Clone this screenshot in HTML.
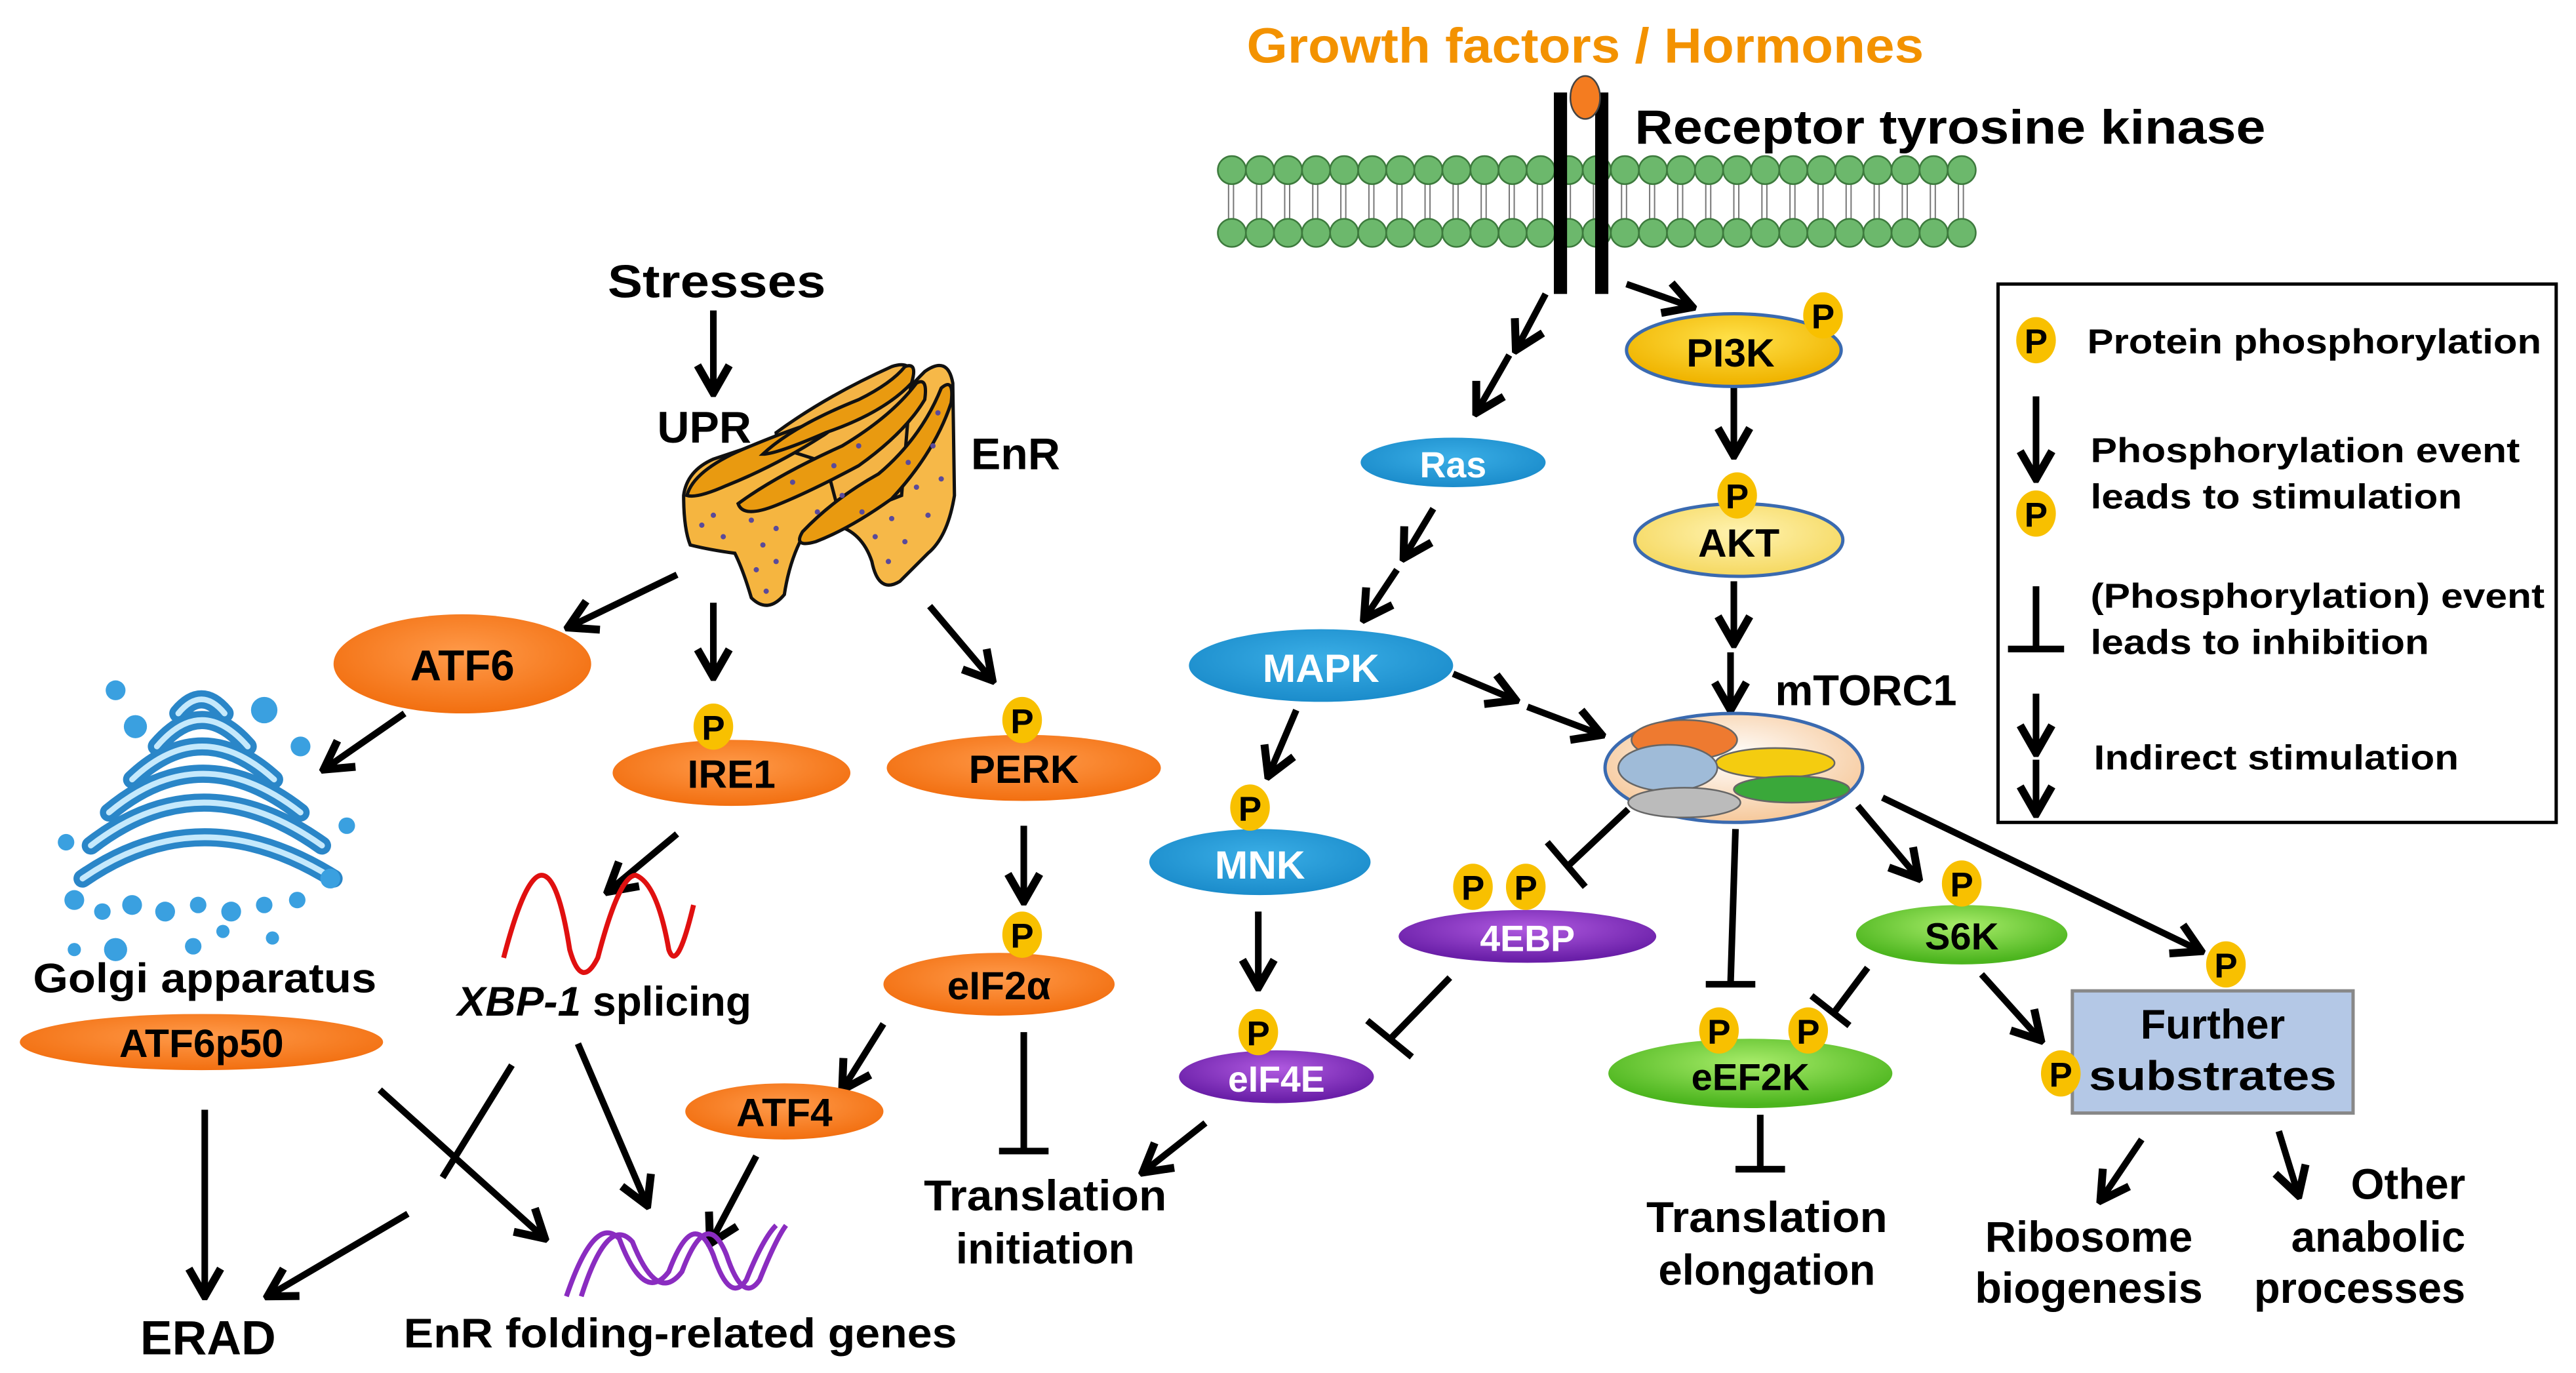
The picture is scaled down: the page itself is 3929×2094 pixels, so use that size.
<!DOCTYPE html>
<html><head><meta charset="utf-8"><style>
html,body{margin:0;padding:0;background:#fff;}
svg{display:block;}
text{font-family:"Liberation Sans",sans-serif;font-weight:bold;}
</style></head><body>
<svg width="3929" height="2094" viewBox="0 0 1560 831.4" preserveAspectRatio="none" xmlns="http://www.w3.org/2000/svg">
<defs>
<marker id="ah" markerUnits="userSpaceOnUse" markerWidth="24" markerHeight="24" viewBox="0 0 20 20" refX="18" refY="10" orient="auto">
<path d="M4,2 L18,10 L4,18" fill="none" stroke="#000" stroke-width="4"/>
</marker>
<radialGradient id="gO" cx="50%" cy="40%" r="60%"><stop offset="0" stop-color="#ff9a4a"/><stop offset="1" stop-color="#f26f10"/></radialGradient>
<radialGradient id="gB" cx="50%" cy="40%" r="60%"><stop offset="0" stop-color="#3aaee6"/><stop offset="1" stop-color="#1b8ccb"/></radialGradient>
<radialGradient id="gPu" cx="50%" cy="35%" r="60%"><stop offset="0" stop-color="#b05ae0"/><stop offset="1" stop-color="#6a1fa8"/></radialGradient>
<radialGradient id="gG" cx="50%" cy="35%" r="60%"><stop offset="0" stop-color="#a8ec6a"/><stop offset="1" stop-color="#4cb51e"/></radialGradient>
<radialGradient id="gY" cx="50%" cy="35%" r="60%"><stop offset="0" stop-color="#ffe14a"/><stop offset="1" stop-color="#f0b400"/></radialGradient>
<radialGradient id="gLY" cx="50%" cy="40%" r="60%"><stop offset="0" stop-color="#fff3b0"/><stop offset="1" stop-color="#f5d860"/></radialGradient>
<radialGradient id="gM" cx="50%" cy="40%" r="60%"><stop offset="0" stop-color="#fff"/><stop offset="1" stop-color="#f6c89a"/></radialGradient>
<g id="P"><ellipse cx="0" cy="0" rx="12" ry="14" fill="#f8c000"/><text x="0" y="8" font-size="21" text-anchor="middle" fill="#000">P</text></g>
</defs>

<!-- title -->
<text x="960" y="38" font-size="30" text-anchor="middle" fill="#f39200" textLength="410" lengthAdjust="spacingAndGlyphs">Growth factors / Hormones</text>
<text x="990" y="87" font-size="29" fill="#000" textLength="382" lengthAdjust="spacingAndGlyphs">Receptor tyrosine kinase</text>

<!-- membrane -->
<g stroke="#777" stroke-width="0.8">
<path d="M744,110 V136 M747,110 V136 M761,110 V136 M764,110 V136 M778,110 V136 M781,110 V136 M795,110 V136 M798,110 V136 M812,110 V136 M815,110 V136 M829,110 V136 M832,110 V136 M846,110 V136 M849,110 V136 M863,110 V136 M866,110 V136 M880,110 V136 M883,110 V136 M897,110 V136 M900,110 V136 M914,110 V136 M917,110 V136 M931,110 V136 M934,110 V136 M948,110 V136 M951,110 V136 M965,110 V136 M968,110 V136 M982,110 V136 M985,110 V136 M999,110 V136 M1002,110 V136 M1016,110 V136 M1019,110 V136 M1033,110 V136 M1036,110 V136 M1050,110 V136 M1053,110 V136 M1067,110 V136 M1070,110 V136 M1084,110 V136 M1087,110 V136 M1101,110 V136 M1104,110 V136 M1118,110 V136 M1121,110 V136 M1135,110 V136 M1138,110 V136 M1152,110 V136 M1155,110 V136 M1169,110 V136 M1172,110 V136 M1186,110 V136 M1189,110 V136"/>
</g>
<g fill="#6cb86c" stroke="#3d7a3d" stroke-width="1">
<circle cx="746" cy="103" r="8.5"/><circle cx="763" cy="103" r="8.5"/><circle cx="780" cy="103" r="8.5"/><circle cx="797" cy="103" r="8.5"/><circle cx="814" cy="103" r="8.5"/><circle cx="831" cy="103" r="8.5"/><circle cx="848" cy="103" r="8.5"/><circle cx="865" cy="103" r="8.5"/><circle cx="882" cy="103" r="8.5"/><circle cx="899" cy="103" r="8.5"/><circle cx="916" cy="103" r="8.5"/><circle cx="933" cy="103" r="8.5"/><circle cx="950" cy="103" r="8.5"/><circle cx="967" cy="103" r="8.5"/><circle cx="984" cy="103" r="8.5"/><circle cx="1001" cy="103" r="8.5"/><circle cx="1018" cy="103" r="8.5"/><circle cx="1035" cy="103" r="8.5"/><circle cx="1052" cy="103" r="8.5"/><circle cx="1069" cy="103" r="8.5"/><circle cx="1086" cy="103" r="8.5"/><circle cx="1103" cy="103" r="8.5"/><circle cx="1120" cy="103" r="8.5"/><circle cx="1137" cy="103" r="8.5"/><circle cx="1154" cy="103" r="8.5"/><circle cx="1171" cy="103" r="8.5"/><circle cx="1188" cy="103" r="8.5"/>
<circle cx="746" cy="141" r="8.5"/><circle cx="763" cy="141" r="8.5"/><circle cx="780" cy="141" r="8.5"/><circle cx="797" cy="141" r="8.5"/><circle cx="814" cy="141" r="8.5"/><circle cx="831" cy="141" r="8.5"/><circle cx="848" cy="141" r="8.5"/><circle cx="865" cy="141" r="8.5"/><circle cx="882" cy="141" r="8.5"/><circle cx="899" cy="141" r="8.5"/><circle cx="916" cy="141" r="8.5"/><circle cx="933" cy="141" r="8.5"/><circle cx="950" cy="141" r="8.5"/><circle cx="967" cy="141" r="8.5"/><circle cx="984" cy="141" r="8.5"/><circle cx="1001" cy="141" r="8.5"/><circle cx="1018" cy="141" r="8.5"/><circle cx="1035" cy="141" r="8.5"/><circle cx="1052" cy="141" r="8.5"/><circle cx="1069" cy="141" r="8.5"/><circle cx="1086" cy="141" r="8.5"/><circle cx="1103" cy="141" r="8.5"/><circle cx="1120" cy="141" r="8.5"/><circle cx="1137" cy="141" r="8.5"/><circle cx="1154" cy="141" r="8.5"/><circle cx="1171" cy="141" r="8.5"/><circle cx="1188" cy="141" r="8.5"/>
</g>
<!-- receptor -->
<rect x="941" y="56" width="8" height="122" fill="#000"/>
<rect x="966" y="56" width="8" height="122" fill="#000"/>
<ellipse cx="960" cy="59" rx="9" ry="13" fill="#f47c20" stroke="#444" stroke-width="1"/>

<!-- LEFT: stresses / ER -->
<text x="434" y="180" font-size="28" text-anchor="middle" textLength="132" lengthAdjust="spacingAndGlyphs">Stresses</text>
<line x1="432" y1="188" x2="432" y2="238" stroke="#000" stroke-width="4" marker-end="url(#ah)"/>
<text x="398" y="268" font-size="27">UPR</text>
<text x="588" y="284" font-size="27">EnR</text>

<!-- ER -->
<g stroke="#111" stroke-width="2">
<path d="M522,272 Q540,245 560,225 Q574,215 577,232 L578,300 Q574,325 562,335 Q552,345 545,352 Q532,360 528,340 Q522,322 506,318 L500,300 Z" fill="#f6b848"/>
<path d="M470,262 Q500,240 540,222 Q552,218 552,228 L546,300 L500,318 Q490,322 482,330 Z" fill="#f4b445"/>
<path d="M414,300 Q416,285 432,278 L462,268 L500,280 L510,318 Q498,318 486,325 Q478,340 475,360 Q465,372 455,362 Q450,345 445,335 Q430,333 418,330 Q414,320 414,300 Z" fill="#f5b540"/>
<path d="M416,300 Q420,285 450,272 Q488,256 502,254 Q508,258 498,264 Q470,282 440,294 Q422,302 416,300 Z" fill="#e99a10"/>
<path d="M447,305 Q470,288 510,270 Q540,252 555,232 Q562,228 560,242 Q548,262 520,282 Q490,298 470,306 Q450,314 447,305 Z" fill="#e99a10"/>
<path d="M486,322 Q505,302 532,287 Q558,265 570,235 Q578,228 576,244 Q566,274 540,302 Q515,320 494,328 Q480,332 486,322 Z" fill="#e99a10"/>
<path d="M462,275 Q480,258 520,242 Q540,232 548,222 Q556,219 552,232 Q535,250 500,262 Q470,275 462,275 Z" fill="#e99a10"/>
</g>
<g fill="#5a4a9a">
<circle cx="425" cy="318" r="1.6"/><circle cx="438" cy="325" r="1.6"/><circle cx="455" cy="315" r="1.6"/><circle cx="462" cy="330" r="1.6"/><circle cx="458" cy="345" r="1.6"/><circle cx="470" cy="320" r="1.6"/><circle cx="495" cy="310" r="1.6"/><circle cx="510" cy="300" r="1.6"/><circle cx="522" cy="310" r="1.6"/><circle cx="540" cy="314" r="1.6"/><circle cx="555" cy="295" r="1.6"/><circle cx="565" cy="270" r="1.6"/><circle cx="548" cy="328" r="1.6"/><circle cx="538" cy="340" r="1.6"/><circle cx="562" cy="312" r="1.6"/><circle cx="505" cy="282" r="1.6"/><circle cx="520" cy="270" r="1.6"/><circle cx="480" cy="292" r="1.6"/><circle cx="464" cy="358" r="1.6"/><circle cx="568" cy="250" r="1.6"/><circle cx="432" cy="312" r="1.6"/><circle cx="470" cy="340" r="1.6"/><circle cx="530" cy="325" r="1.6"/><circle cx="570" cy="290" r="1.6"/><circle cx="550" cy="280" r="1.6"/>
</g>

<!-- arrows left -->
<g stroke="#000" stroke-width="4" fill="none">
<line x1="410" y1="348" x2="344" y2="380" marker-end="url(#ah)"/>
<line x1="432" y1="365" x2="432" y2="410" marker-end="url(#ah)"/>
<line x1="563" y1="367" x2="601" y2="412" marker-end="url(#ah)"/>
<line x1="245" y1="432" x2="196" y2="466" marker-end="url(#ah)"/>
<line x1="410" y1="505" x2="368" y2="540" marker-end="url(#ah)"/>
<line x1="620" y1="500" x2="620" y2="546" marker-end="url(#ah)"/>
<line x1="535" y1="620" x2="510" y2="660" marker-end="url(#ah)"/>
<line x1="124" y1="672" x2="124" y2="785" marker-end="url(#ah)"/>
<line x1="310" y1="645" x2="268" y2="713"/>
<line x1="247" y1="735" x2="162" y2="785" marker-end="url(#ah)"/>
<line x1="230" y1="660" x2="330" y2="750" marker-end="url(#ah)"/>
<line x1="350" y1="632" x2="392" y2="730" marker-end="url(#ah)"/>
<line x1="458" y1="700" x2="430" y2="753" marker-end="url(#ah)"/>
<line x1="620" y1="625" x2="620" y2="697"/>
<line x1="605" y1="697" x2="635" y2="697"/>
</g>

<!-- Golgi -->
<g fill="none" stroke-linecap="round">
<g stroke="#2a86c8" stroke-width="11">
<path d="M108,432 Q122,415 136,432"/>
<path d="M95,452 Q122,420 150,452"/>
<path d="M80,472 Q122,432 166,472"/>
<path d="M66,492 Q122,445 182,492"/>
<path d="M55,512 Q122,460 195,512"/>
<path d="M50,532 Q122,482 202,532"/>
</g>
<g stroke="#c5e9fc" stroke-width="3.5">
<path d="M108,432 Q122,415 136,432"/>
<path d="M95,452 Q122,420 150,452"/>
<path d="M80,472 Q122,432 166,472"/>
<path d="M66,492 Q122,445 182,492"/>
<path d="M55,512 Q122,460 195,512"/>
<path d="M50,532 Q122,482 202,532"/>
</g>
</g>
<g fill="#3aa0e0">
<circle cx="70" cy="418" r="6"/><circle cx="82" cy="440" r="7"/><circle cx="160" cy="430" r="8"/><circle cx="182" cy="452" r="6"/><circle cx="40" cy="510" r="5"/><circle cx="210" cy="500" r="5"/><circle cx="45" cy="545" r="6"/><circle cx="62" cy="552" r="5"/><circle cx="80" cy="548" r="6"/><circle cx="100" cy="552" r="6"/><circle cx="120" cy="548" r="5"/><circle cx="140" cy="552" r="6"/><circle cx="160" cy="548" r="5"/><circle cx="180" cy="545" r="5"/><circle cx="70" cy="575" r="7"/><circle cx="117" cy="573" r="5"/><circle cx="200" cy="532" r="6"/><circle cx="135" cy="564" r="4"/><circle cx="45" cy="575" r="4"/><circle cx="165" cy="568" r="4"/>
</g>

<!-- left nodes -->
<ellipse cx="280" cy="402" rx="78" ry="30" fill="url(#gO)"/>
<text x="280" y="412" font-size="26" text-anchor="middle">ATF6</text>
<text x="124" y="601" font-size="25" text-anchor="middle" textLength="208" lengthAdjust="spacingAndGlyphs">Golgi apparatus</text>
<ellipse cx="122" cy="631" rx="110" ry="17" fill="url(#gO)"/>
<text x="122" y="640" font-size="24" text-anchor="middle">ATF6p50</text>
<ellipse cx="443" cy="468" rx="72" ry="20" fill="url(#gO)"/>
<text x="443" y="477" font-size="24" text-anchor="middle">IRE1</text>
<use href="#P" x="432" y="440"/>
<ellipse cx="620" cy="465" rx="83" ry="20" fill="url(#gO)"/>
<text x="620" y="474" font-size="24" text-anchor="middle">PERK</text>
<use href="#P" x="619" y="436"/>
<ellipse cx="605" cy="596" rx="70" ry="19" fill="url(#gO)"/>
<text x="605" y="605" font-size="24" text-anchor="middle">eIF2α</text>
<use href="#P" x="619" y="566"/>
<ellipse cx="475" cy="673" rx="60" ry="17" fill="url(#gO)"/>
<text x="475" y="682" font-size="24" text-anchor="middle">ATF4</text>

<path d="M305,580 Q318,530 328,530 Q338,530 345,575 Q352,600 362,580 Q375,530 385,530 Q398,535 405,575 Q410,590 420,548" fill="none" stroke="#e01010" stroke-width="3"/>
<text x="366" y="615" font-size="25" text-anchor="middle" textLength="178" lengthAdjust="spacingAndGlyphs"><tspan font-style="italic">XBP-1</tspan> splicing</text>

<g fill="none" stroke="#8a2cc0" stroke-width="3">
<path d="M343,785 Q360,735 375,750 Q390,790 405,770 Q420,730 432,760 Q442,790 452,775 Q462,750 470,742"/>
<path d="M352,785 Q368,735 383,752 Q398,790 413,770 Q428,730 440,760 Q450,790 460,775 Q470,750 476,742"/>
</g>
<text x="126" y="820" font-size="29" text-anchor="middle">ERAD</text>
<text x="412" y="816" font-size="25" text-anchor="middle" textLength="335" lengthAdjust="spacingAndGlyphs">EnR folding-related genes</text>
<text x="633" y="733" font-size="26" text-anchor="middle" textLength="147" lengthAdjust="spacingAndGlyphs">Translation</text>
<text x="633" y="765" font-size="26" text-anchor="middle">initiation</text>

<!-- RIGHT pathway arrows -->
<g stroke="#000" stroke-width="4" fill="none">
<line x1="985" y1="172" x2="1025" y2="186" marker-end="url(#ah)"/>
<line x1="936" y1="178" x2="918" y2="212" marker-end="url(#ah)"/>
<line x1="914" y1="215" x2="894" y2="250" marker-end="url(#ah)"/>
<line x1="1050" y1="232" x2="1050" y2="276" marker-end="url(#ah)"/>
<line x1="1050" y1="352" x2="1050" y2="390" marker-end="url(#ah)"/>
<line x1="1048" y1="395" x2="1048" y2="430" marker-end="url(#ah)"/>
<line x1="868" y1="308" x2="850" y2="338" marker-end="url(#ah)"/>
<line x1="846" y1="345" x2="826" y2="375" marker-end="url(#ah)"/>
<line x1="880" y1="408" x2="918" y2="424" marker-end="url(#ah)"/>
<line x1="925" y1="428" x2="970" y2="445" marker-end="url(#ah)"/>
<line x1="785" y1="430" x2="768" y2="470" marker-end="url(#ah)"/>
<line x1="762" y1="552" x2="762" y2="598" marker-end="url(#ah)"/>
<line x1="730" y1="680" x2="692" y2="710" marker-end="url(#ah)"/>
<line x1="986" y1="490" x2="950" y2="524"/><line x1="937" y1="510" x2="960" y2="537"/>
<line x1="878" y1="592" x2="843" y2="628"/><line x1="828" y1="618" x2="855" y2="640"/>
<line x1="1051" y1="502" x2="1048" y2="596"/><line x1="1033" y1="596" x2="1063" y2="596"/>
<line x1="1131" y1="586" x2="1110" y2="614"/><line x1="1097" y1="603" x2="1120" y2="621"/>
<line x1="1066" y1="675" x2="1066" y2="708"/><line x1="1051" y1="708" x2="1081" y2="708"/>
<line x1="1125" y1="488" x2="1162" y2="532" marker-end="url(#ah)"/>
<line x1="1140" y1="483" x2="1333" y2="576" marker-end="url(#ah)"/>
<line x1="1200" y1="590" x2="1236" y2="630" marker-end="url(#ah)"/>
<line x1="1297" y1="690" x2="1272" y2="727" marker-end="url(#ah)"/>
<line x1="1380" y1="685" x2="1392" y2="724" marker-end="url(#ah)"/>
</g>

<!-- right nodes -->
<ellipse cx="1050" cy="212" rx="65" ry="22" fill="url(#gY)" stroke="#3a6ab0" stroke-width="2"/>
<text x="1048" y="222" font-size="24" text-anchor="middle">PI3K</text>
<use href="#P" x="1104" y="191"/>
<ellipse cx="1053" cy="327" rx="63" ry="22" fill="url(#gLY)" stroke="#3a6ab0" stroke-width="2"/>
<text x="1053" y="337" font-size="24" text-anchor="middle">AKT</text>
<use href="#P" x="1052" y="300"/>
<text x="1075" y="427" font-size="26" textLength="110" lengthAdjust="spacingAndGlyphs">mTORC1</text>

<ellipse cx="880" cy="280" rx="56" ry="15" fill="url(#gB)"/>
<text x="880" y="289" font-size="22" text-anchor="middle" fill="#fff">Ras</text>
<ellipse cx="800" cy="403" rx="80" ry="22" fill="url(#gB)"/>
<text x="800" y="413" font-size="24" text-anchor="middle" fill="#fff">MAPK</text>
<ellipse cx="763" cy="522" rx="67" ry="20" fill="url(#gB)"/>
<text x="763" y="532" font-size="24" text-anchor="middle" fill="#fff">MNK</text>
<use href="#P" x="757" y="489"/>
<ellipse cx="773" cy="652" rx="59" ry="16" fill="url(#gPu)"/>
<text x="773" y="661" font-size="22" text-anchor="middle" fill="#fff">eIF4E</text>
<use href="#P" x="762" y="625"/>
<ellipse cx="925" cy="567" rx="78" ry="16" fill="url(#gPu)"/>
<text x="925" y="576" font-size="22" text-anchor="middle" fill="#fff">4EBP</text>
<use href="#P" x="892" y="537"/><use href="#P" x="924" y="537"/>

<ellipse cx="1050" cy="465" rx="78" ry="33" fill="url(#gM)" stroke="#3a6ab0" stroke-width="2"/>
<ellipse cx="1020" cy="448" rx="32" ry="12" fill="#ee7a30" stroke="#666"/>
<ellipse cx="1075" cy="462" rx="36" ry="9" fill="#f4cc10" stroke="#666"/>
<ellipse cx="1010" cy="465" rx="30" ry="14" fill="#9fbbd8" stroke="#666"/>
<ellipse cx="1085" cy="478" rx="35" ry="8" fill="#3aa83a" stroke="#666"/>
<ellipse cx="1020" cy="486" rx="34" ry="9" fill="#bbb" stroke="#666"/>

<ellipse cx="1188" cy="566" rx="64" ry="18" fill="url(#gG)"/>
<text x="1188" y="575" font-size="23" text-anchor="middle">S6K</text>
<use href="#P" x="1188" y="535"/>
<ellipse cx="1060" cy="650" rx="86" ry="21" fill="url(#gG)"/>
<text x="1060" y="660" font-size="23" text-anchor="middle">eEF2K</text>
<use href="#P" x="1041" y="624"/><use href="#P" x="1095" y="624"/>

<rect x="1255" y="600" width="170" height="74" fill="#b4c8e6" stroke="#888" stroke-width="2"/>
<text x="1340" y="629" font-size="25" text-anchor="middle">Further</text>
<text x="1340" y="660" font-size="25" text-anchor="middle" textLength="150" lengthAdjust="spacingAndGlyphs">substrates</text>
<use href="#P" x="1348" y="584"/>
<use href="#P" x="1248" y="650"/>

<text x="1070" y="746" font-size="26" text-anchor="middle" textLength="146" lengthAdjust="spacingAndGlyphs">Translation</text>
<text x="1070" y="778" font-size="26" text-anchor="middle">elongation</text>
<text x="1265" y="758" font-size="26" text-anchor="middle">Ribosome</text>
<text x="1265" y="789" font-size="26" text-anchor="middle" textLength="138" lengthAdjust="spacingAndGlyphs">biogenesis</text>
<text x="1493" y="726" font-size="26" text-anchor="end">Other</text>
<text x="1493" y="758" font-size="26" text-anchor="end">anabolic</text>
<text x="1493" y="789" font-size="26" text-anchor="end" textLength="128" lengthAdjust="spacingAndGlyphs">processes</text>

<!-- legend -->
<rect x="1210" y="172" width="338" height="326" fill="#fff" stroke="#000" stroke-width="2"/>
<use href="#P" x="1233" y="206"/>
<text x="1264" y="214" font-size="21" textLength="275" lengthAdjust="spacingAndGlyphs">Protein phosphorylation</text>
<g stroke="#000" stroke-width="4" fill="none">
<line x1="1233" y1="240" x2="1233" y2="290" marker-end="url(#ah)"/>
<line x1="1233" y1="355" x2="1233" y2="393"/><line x1="1216" y1="393" x2="1250" y2="393"/>
<line x1="1233" y1="420" x2="1233" y2="456" marker-end="url(#ah)"/>
<line x1="1233" y1="460" x2="1233" y2="493" marker-end="url(#ah)"/>
</g>
<use href="#P" x="1233" y="311"/>
<text x="1266" y="280" font-size="21" textLength="260" lengthAdjust="spacingAndGlyphs">Phosphorylation event</text>
<text x="1266" y="308" font-size="21" textLength="225" lengthAdjust="spacingAndGlyphs">leads to stimulation</text>
<text x="1266" y="368" font-size="21" textLength="275" lengthAdjust="spacingAndGlyphs">(Phosphorylation) event</text>
<text x="1266" y="396" font-size="21" textLength="205" lengthAdjust="spacingAndGlyphs">leads to inhibition</text>
<text x="1268" y="466" font-size="21" textLength="221" lengthAdjust="spacingAndGlyphs">Indirect stimulation</text>
</svg>
</body></html>
